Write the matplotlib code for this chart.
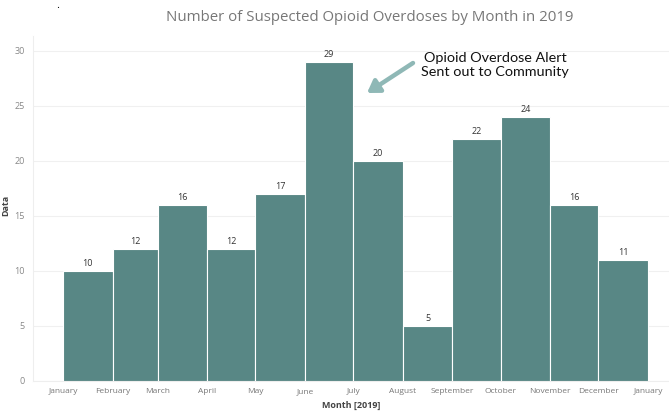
import numpy as np
import matplotlib
matplotlib.use("Agg")
import matplotlib.pyplot as plt

months = ["January", "February", "March", "April", "May", "June", "July",
          "August", "September", "October", "November", "December", "January"]
days = [31, 28, 31, 30, 31, 30, 31, 31, 30, 31, 30, 31]
overdoses = [10, 12, 16, 12, 17, 29, 20, 5, 22, 24, 16, 11]

edges = np.concatenate([[0], np.cumsum(days)])

plt.rcParams['font.family'] = ['Open Sans', 'DejaVu Sans']

fig = plt.figure(figsize=(6.69, 4.13), dpi=100)
ax = fig.add_axes([33 / 669, 32 / 413, 636 / 669, 345 / 413])

ax.bar(edges[:-1], overdoses, width=days, align='edge',
       color='#588785', edgecolor='white', linewidth=0.8, zorder=3)

for x0, w, v in zip(edges[:-1], days, overdoses):
    ax.text(x0 + w / 2, v + 0.25, str(v), ha='center', va='bottom',
            fontsize=6.5, color='#333333', zorder=4)

ax.set_xlim(-18.7, 378.1)
ax.set_ylim(0, 31.36)
ax.set_xticks(edges)
ax.set_xticklabels(months, fontsize=6, color='#777777')
ax.set_yticks(range(0, 31, 5))
ax.set_yticklabels([str(t) for t in range(0, 31, 5)], fontsize=6.5, color='#888888')
ax.tick_params(axis='both', length=0, pad=5)
ax.tick_params(axis='y', pad=6)
ax.grid(axis='y', color='#f0f0f0', linewidth=0.8, zorder=0)

for s in ['top', 'right']:
    ax.spines[s].set_visible(False)
ax.spines['left'].set_color('#eeeeee')
ax.spines['bottom'].set_color('#eeeeee')

ax.set_xlabel("Month [2019]", fontsize=6.5, fontweight='bold', color='#444444', labelpad=4)
ax.set_ylabel("Data", fontsize=6.5, fontweight='bold', color='#444444')
ax.yaxis.set_label_coords(-23 / 636, 0.51)

fig.text(0.553, 0.958, "Number of Suspected Opioid Overdoses by Month in 2019",
         ha='center', va='center', fontsize=10.8, color='#777777')
fig.text(58 / 669, 1 - 6 / 413, ".", ha='center', va='center', fontsize=8, color='black')

# callout
fig.text(495 / 669, 1 - 65 / 413, "Opioid Overdose Alert\nSent out to Community",
         ha='center', va='center', fontsize=10.4, color='#111111',
         family=['Lato', 'DejaVu Sans'], linespacing=1.25)
ax.annotate("", xy=(367 / 669, 1 - 93 / 413), xytext=(413 / 669, 1 - 63 / 413),
            xycoords='figure fraction', textcoords='figure fraction',
            arrowprops=dict(arrowstyle='-|>,head_width=0.45,head_length=0.7',
                            color='#8fb8b6', lw=3.2, shrinkA=0, shrinkB=0),
            zorder=5)

fig.savefig("out.png", dpi=100)
